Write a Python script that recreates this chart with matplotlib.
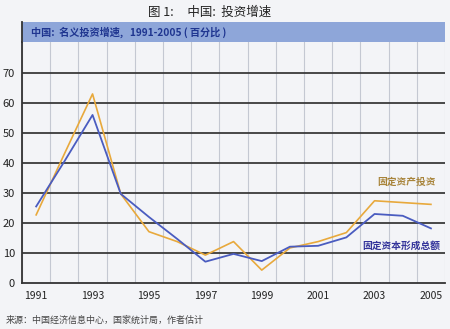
import matplotlib
matplotlib.use("Agg")
import matplotlib.pyplot as plt

plt.rcParams['font.family'] = ['Noto Sans CJK SC', 'DejaVu Sans']

years = list(range(1991, 2006))
fixed_asset_inv = [22.7, 43.0, 63.0, 29.7, 17.1, 13.8, 9.3, 13.8, 4.3, 11.7, 13.8, 16.8, 27.4, 26.8, 26.2]
gross_fixed_cap = [25.5, 40.5, 56.0, 29.7, 22.0, 14.7, 7.1, 9.7, 7.3, 12.1, 12.4, 15.2, 23.0, 22.4, 18.2]
yticks = [0, 10, 20, 30, 40, 50, 60, 70]
xticks = [1991, 1993, 1995, 1997, 1999, 2001, 2003, 2005]

bg = '#f3f4f7'
fig = plt.figure(figsize=(4.5, 3.29), dpi=100, facecolor=bg)
ax = fig.add_axes([0.049, 0.1398, 0.94, 0.7325], facecolor=bg)

ax.set_xlim(1990.5, 2005.5)
ax.set_ylim(0, 80.3)

for k in range(16):
    ax.axvline(1990.5 + k, color='#c4c8d2', lw=0.8, zorder=1)
for v in yticks[1:]:
    ax.axhline(v, color='#3a3a3a', lw=1.3, zorder=2)

ax.plot(years, fixed_asset_inv, color='#e8a93c', lw=1.2, zorder=3)
ax.plot(years, gross_fixed_cap, color='#4a5cc0', lw=1.3, zorder=4)

for s in ['top', 'right']:
    ax.spines[s].set_visible(False)
ax.spines['left'].set_color('#333333')
ax.spines['left'].set_linewidth(1.3)
ax.spines['bottom'].set_color('#333333')
ax.spines['bottom'].set_linewidth(1.3)

ax.set_yticks(yticks)
ax.set_yticklabels([str(v) for v in yticks], fontsize=8, color='#222222')
ax.set_xticks(xticks)
ax.set_xticklabels([str(v) for v in xticks], fontsize=7.5, color='#222222')
ax.tick_params(length=0)
ax.tick_params(axis='x', pad=6)
ax.tick_params(axis='y', pad=5)

ax.text(2003.1, 32.6, '固定资产投资', fontsize=7, color='#a8843a', fontweight='bold', zorder=5)
ax.text(2002.55, 11.5, '固定资本形成总额', fontsize=7, color='#33339a', fontweight='bold', zorder=5)

# header band
band = fig.add_axes([0.049, 0.8723, 0.94, 0.06], facecolor='#8ea6d9')
band.set_xticks([]); band.set_yticks([])
for s in ['top', 'right', 'bottom']:
    band.spines[s].set_visible(False)
band.spines['left'].set_color('#333333')
band.spines['left'].set_linewidth(1.3)
band.text(0.02, 0.5, '中国:  名义投资增速,   1991-2005 ( 百分比 )', transform=band.transAxes,
          fontsize=7.3, color='#1f3590', fontweight='bold', va='center', ha='left')

fig.text(0.465, 0.963, '图 1:     中国:  投资增速', fontsize=9, color='#222222', ha='center', va='center')
fig.text(0.012, 0.028, '来源：中国经济信息中心，国家统计局，作者估计', fontsize=6.5, color='#444444', ha='left', va='center')

fig.savefig('out.png', dpi=100, facecolor=bg)
